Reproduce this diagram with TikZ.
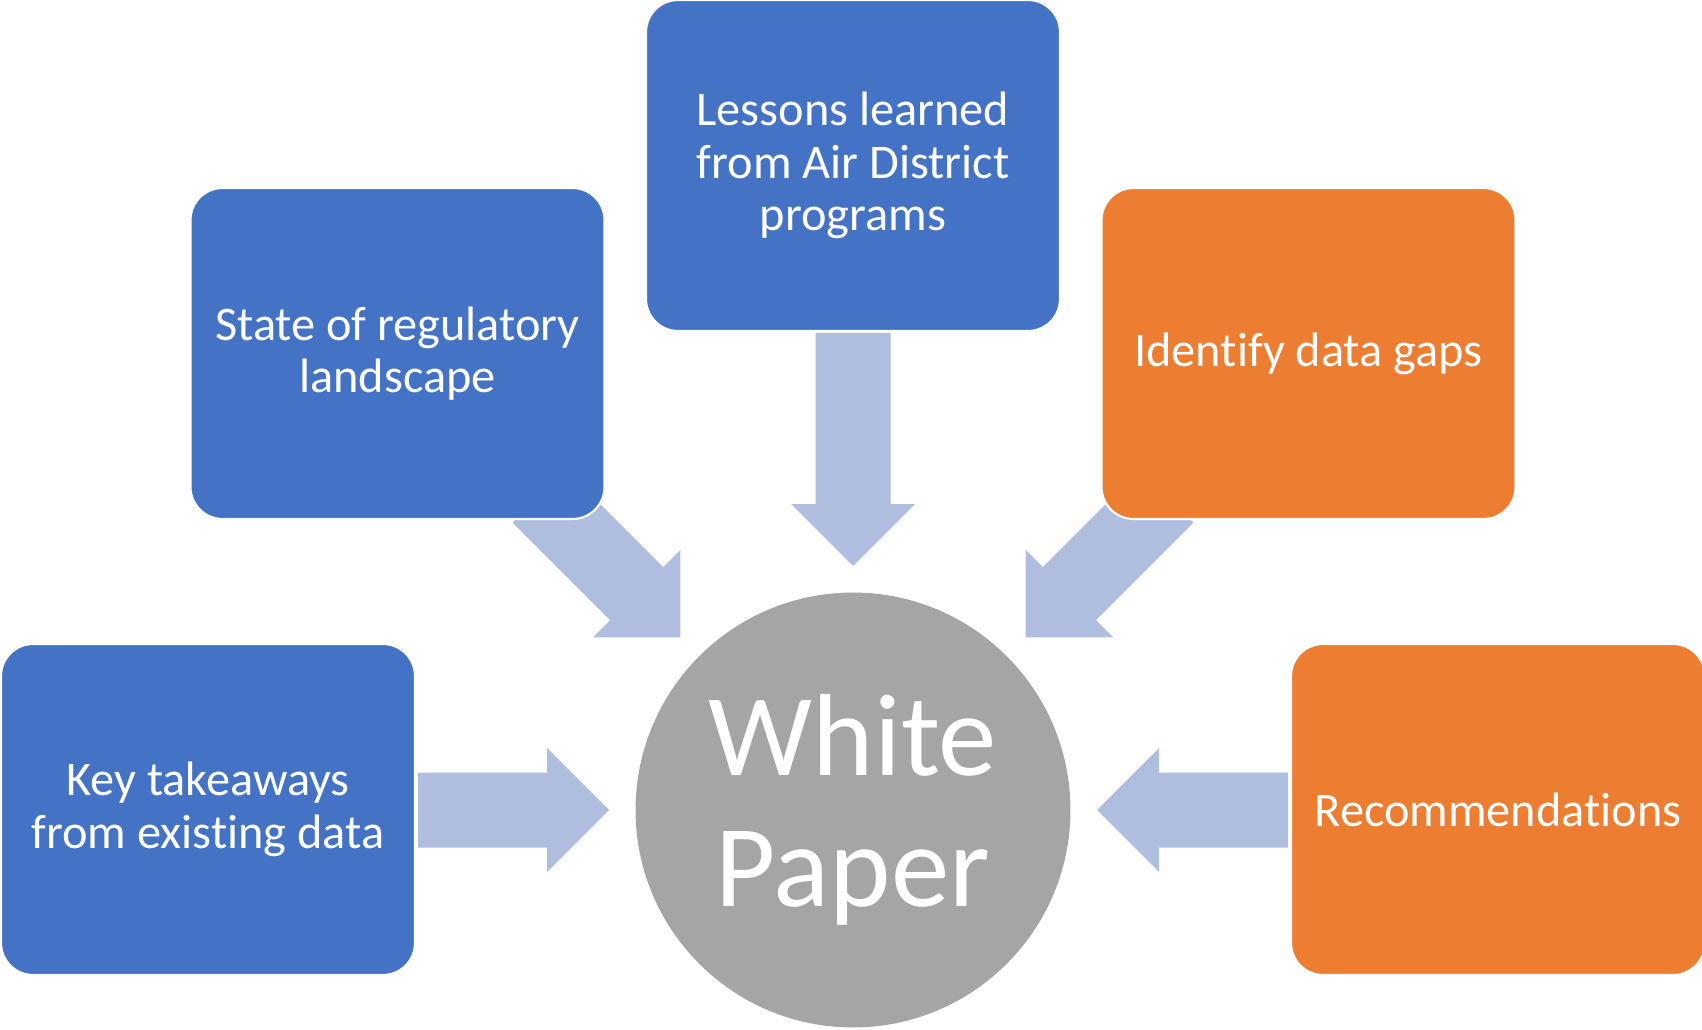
\documentclass[tikz,border=0pt]{standalone}
\usepackage{fontspec}
\setmainfont{Carlito}[Ligatures={NoCommon,NoRare,NoContextual}, RawFeature={-liga;-clig;-calt;-dlig}]
\usepackage{xcolor}

\definecolor{boxblue}{HTML}{4472C4}
\definecolor{boxorange}{HTML}{ED7D31}
\definecolor{papergrey}{HTML}{A5A5A5}
\definecolor{arrowblue}{HTML}{AFBDDE}

\begin{document}
\begin{tikzpicture}[x=0.02cm, y=0.02cm,
        topic/.style={rectangle, rounded corners=0.64cm, draw=white, line width=1.2pt,
            text=white, align=center, inner sep=0pt,
            minimum width=8.28cm, minimum height=6.62cm,
            font=\fontsize{27.5}{30}\selectfont}]
    \useasboundingbox (0,0) rectangle (1702,1029);

    \node[circle, fill=papergrey, minimum size=8.7cm, inner sep=0pt, text=white, align=center,
        font=\fontsize{66.5}{74.5}\selectfont] (paper) at (853,219) {White\\Paper};

    % block arrows pointing at the circle, angle/length
    \foreach \ang/\len in {180/191, 135/200, 90/233, 45/200, 0/191}
        \fill[arrowblue, shift={(paper.center)}, rotate=\ang]
            (244+\len,37.5) -- (306,37.5) -- (306,62) -- (244,0)
            -- (306,-62) -- (306,-37.5) -- (244+\len,-37.5) -- cycle;

    \node[topic, fill=boxblue] (lessons) at (853,863.5) {Lessons learned\\from Air District\\programs};
    \node[topic, fill=boxblue] (state) at (397.5,675.5) {State of regulatory\\landscape};
    \node[topic, fill=boxorange] (gaps) at (1308.5,675.5) {Identify data gaps};
    \node[topic, fill=boxblue] (takeaways) at (208,219.5) {Key takeaways\\from existing data};
    \node[topic, fill=boxorange] (recs) at (1498,219.5) {Recommendations};
\end{tikzpicture}
\end{document}
